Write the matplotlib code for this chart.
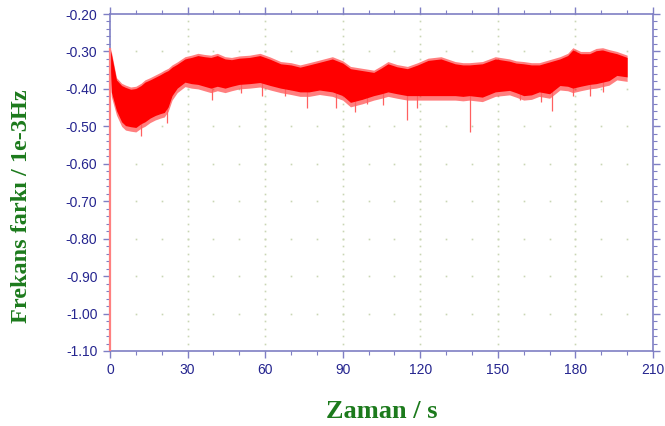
import numpy as np
import matplotlib
matplotlib.use("Agg")
import matplotlib.pyplot as plt
from matplotlib.ticker import MultipleLocator, FormatStrFormatter

# ---- data ----
t = [0, 0.5, 2.5, 4.5, 6, 8, 10, 12, 13.5, 15.5, 17.5, 19.5, 21, 22.5, 24, 26, 29, 31.5, 34,
     36.5, 39, 41.5, 44.5, 47, 50, 54, 58, 62, 66, 70, 73.5, 77, 81, 86, 90, 93, 97.5,
     102, 105, 107.5, 111, 115, 119, 123, 128, 133.5, 136.5, 139, 144, 149, 154.5, 157,
     160, 163, 166, 170, 174, 177, 179, 182, 185.5, 188, 190.5, 193, 196, 198, 200]
upper = [-0.29, -0.30, -0.37, -0.385, -0.39, -0.395, -0.393, -0.385, -0.376, -0.37, -0.363,
         -0.356, -0.35, -0.345, -0.336, -0.328, -0.314, -0.31, -0.305, -0.308, -0.31, -0.305,
         -0.314, -0.316, -0.312, -0.31, -0.305, -0.315, -0.327, -0.33, -0.336, -0.33, -0.323,
         -0.314, -0.325, -0.34, -0.345, -0.35, -0.338, -0.327, -0.335, -0.34, -0.33, -0.318,
         -0.314, -0.327, -0.33, -0.33, -0.327, -0.314, -0.32, -0.325, -0.327, -0.33, -0.33,
         -0.322, -0.314, -0.305, -0.29, -0.30, -0.30, -0.292, -0.29, -0.295, -0.30, -0.305,
         -0.31]
lower = [-0.33, -0.42, -0.47, -0.50, -0.51, -0.513, -0.515, -0.505, -0.50, -0.49, -0.483,
         -0.478, -0.475, -0.46, -0.43, -0.41, -0.394, -0.398, -0.40, -0.405, -0.41, -0.405,
         -0.41, -0.405, -0.40, -0.398, -0.395, -0.403, -0.41, -0.415, -0.42, -0.42, -0.415,
         -0.42, -0.43, -0.448, -0.44, -0.43, -0.425, -0.42, -0.425, -0.43, -0.43, -0.43,
         -0.43, -0.43, -0.432, -0.43, -0.434, -0.42, -0.416, -0.422, -0.43, -0.428, -0.42,
         -0.425, -0.403, -0.405, -0.41, -0.405, -0.40, -0.398, -0.394, -0.39, -0.376, -0.378,
         -0.38]
spike_t = [12, 22, 39.5, 50.7, 58.6, 67.5, 76, 87.5, 94.7, 99.2, 105.4, 115, 118.8, 139.3,
           158.5, 166.8, 170.8, 179, 185.6, 190.6]
spike_low = [-0.525, -0.49, -0.43, -0.41, -0.42, -0.42, -0.45, -0.45, -0.461, -0.44, -0.443,
             -0.483, -0.45, -0.515, -0.43, -0.434, -0.46, -0.42, -0.42, -0.407]
start_low = -1.10

xticks = [0, 30, 60, 90, 120, 150, 180, 210]
yticks = [-0.20, -0.30, -0.40, -0.50, -0.60, -0.70, -0.80, -0.90, -1.00, -1.10]

# ---- styling ----
blue = "#7f7fc4"
txtblue = "#25258f"
green = "#1c7a1c"
red = "#ff0000"

fig = plt.figure(figsize=(6.65, 4.26), dpi=100)
ax = fig.add_axes([110/665, 1-351/426, 543/665, 337/426])
ax.set_xlim(0, 210)
ax.set_ylim(-1.10, -0.20)

# dotted grid (dots at minor positions along major lines)
gc = "#c9d6b4"
xm = np.arange(10, 210, 10)
for yv in yticks[1:-1]:
    ax.plot(xm, [yv]*len(xm), ls="none", marker="s", ms=1.2, color=gc, mew=0, zorder=0)
ym = np.arange(-1.10, -0.199, 0.02)
for xv in xticks[1:-1]:
    ax.plot([xv]*len(ym), ym, ls="none", marker="s", ms=1.2, color=gc, mew=0, zorder=0)

# initial jump at t=0 (drawn over the left spine)
ax.vlines(t[0], start_low, upper[0], color="#ff8080", lw=1.6, zorder=6, clip_on=False)

ta = np.array(t); ua = np.array(upper); la = np.array(lower)
ax.fill_between(ta, ua, la, color=red, alpha=0.5, lw=0, zorder=3)
ax.fill_between(ta, ua - 0.006, la + 0.012, color=red, lw=0, zorder=4)
ub = np.interp(spike_t, ta, ua)
ax.vlines(spike_t, spike_low, ub - 0.01, color="#ff6060", lw=0.9, zorder=3)

for s in ["top", "bottom", "right", "left"]:
    ax.spines[s].set_color(blue)
    ax.spines[s].set_linewidth(1.2)

ax.xaxis.set_minor_locator(MultipleLocator(10))
ax.yaxis.set_minor_locator(MultipleLocator(0.02))
ax.yaxis.set_major_formatter(FormatStrFormatter("%.2f"))
ax.set_xticks(xticks)
ax.set_yticks(yticks)
ax.tick_params(which="both", direction="out", color=blue, top=True, right=True,
               labeltop=False, labelright=False)
ax.tick_params(which="major", length=5, width=1, labelsize=10, labelcolor=txtblue, pad=4)
ax.tick_params(which="minor", length=3, width=0.8)
for lab in ax.get_xticklabels() + ax.get_yticklabels():
    lab.set_fontfamily("Liberation Sans")

fig.text(22/665, 1-206/426, "Frekans farkı / 1e-3Hz", rotation=90, ha="center", va="center",
         fontsize=17.5, fontweight="bold", family="Liberation Serif", color=green)
fig.text(382/665, 1-412/426, "Zaman / s", ha="center", va="center",
         fontsize=19, fontweight="bold", family="Liberation Serif", color=green)

fig.savefig("out.png", dpi=100)
